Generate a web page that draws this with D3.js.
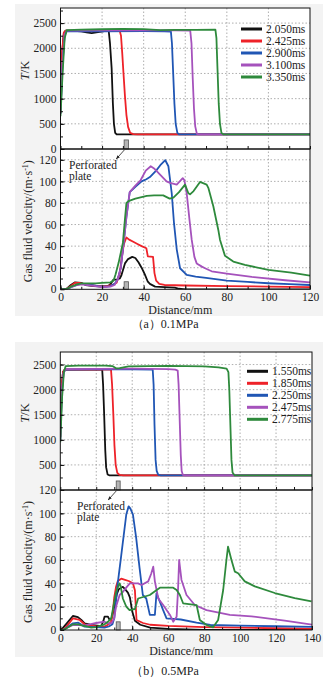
<!DOCTYPE html>
<html>
<head>
<meta charset="utf-8">
<script src="https://cdn.jsdelivr.net/npm/d3@7"></script>
<style>
  body { margin: 0; background: #fff; }
  svg text { font-family: "Liberation Serif", "Times New Roman", serif; fill: #222; }
</style>
</head>
<body>
<svg id="chart" width="327" height="677"></svg>
<script>
// ---------- data ----------
const seriesColors = ['#111111', '#ee2229', '#2056b4', '#a552bc', '#2e8a3c']

const timesA = ['2.050ms', '2.425ms', '2.900ms', '3.100ms', '3.350ms']
const timesB = ['1.550ms', '1.850ms', '2.250ms', '2.475ms', '2.775ms']

const distTicksA = [0, 20, 40, 60, 80, 100, 120]
const distTicksB = [0, 20, 40, 60, 80, 100, 120, 140]
const tTicksA = [0, 500, 1000, 1500, 2000, 2500]
const tTicksB = [500, 1000, 1500, 2000, 2500]
const vTicksA = [0, 20, 40, 60, 80, 100, 120]
const vTicksB = [0, 20, 40, 60, 80, 100, 120]

// perforated plate: [start mm, end mm], height in K and in m/s
const plateA = [30.6, 32.7]
const plateB = [31.1, 33.3]
const plateT = 180
const plateV = 7

// (a) 0.1MPa temperature, [distance mm, T K]
const tempA_2050 = [[0,720],[0.8,1900],[1.6,2300],[2.5,2350],[6,2345],[10,2335],[12.5,2315],[15,2300],[18,2320],[22,2345],[23.2,2340],[23.8,2100],[24.6,1600],[25.2,900],[25.7,500],[26.3,320],[27,290],[120,290]]
const tempA_2425 = [[0,720],[0.8,1950],[1.6,2310],[2.5,2350],[10,2345],[20,2345],[28.5,2345],[29.1,2250],[29.7,1900],[30.3,1500],[31,1050],[31.7,680],[32.5,440],[33.5,320],[35,295],[37,290],[120,290]]
const tempA_2900 = [[0,700],[1,1700],[2,2250],[3,2340],[20,2335],[40,2340],[50,2335],[53.1,2330],[53.6,2100],[54.2,1500],[54.8,900],[55.4,500],[56.2,320],[57,290],[120,290]]
const tempA_3100 = [[0,700],[1,1750],[2,2280],[3,2350],[20,2355],[40,2355],[55,2355],[62.4,2350],[63,2100],[63.6,1400],[64.2,800],[64.8,450],[65.6,300],[66.5,290],[120,290]]
const tempA_3350 = [[0,650],[1,1500],[2,2200],[3,2360],[10,2370],[20,2378],[30,2385],[40,2380],[48,2362],[55,2366],[65,2366],[74.5,2370],[75,2200],[75.5,1600],[76.1,900],[76.7,500],[77.4,320],[78.5,290],[120,290]]

// (a) 0.1MPa gas velocity, [distance mm, v m/s]
const velA_2050 = [[0,0],[3,0.5],[5,4],[7,6.5],[10,6],[12,4],[16,3],[20,2.5],[23,3],[24.5,6],[25.5,9],[27,9],[28.5,10],[29.3,13],[31,24],[32.5,28],[34.5,30],[36,29],[37.5,25],[39,20],[40.5,14],[42,7],[43,5],[45.5,2.5],[50,2],[55,1.5],[57,0.5],[60,0],[120,0]]
const velA_2425 = [[0,0],[3,0.5],[5,3],[7,6],[9,6],[11,5],[14,4],[18,3],[22,3],[25,4],[27,6],[28.5,15],[29.5,30],[30.5,42],[31.7,48],[33,46],[35,44],[37,42],[39,40],[41.3,38],[42,30.5],[44.5,30],[45.2,15],[46,8],[47.5,5],[50,4],[60,3.5],[80,3],[100,2.5],[120,2]]
const velA_2900 = [[0,0],[3,0.3],[5,2],[8,4],[10,5],[12,4.5],[15,4],[18,3],[22,2.5],[24,3],[26,5],[27.5,9],[29,20],[30.5,45],[31.7,67],[33.3,90],[36,95],[39,100],[41.3,102],[43,104],[46,110],[48,115],[50.4,119.6],[51.9,114],[53.5,89],[54.6,61],[55.9,37],[57.5,19.5],[60.7,13.3],[65,11.7],[70,10.5],[80,8],[90,6.8],[100,5.6],[110,4.8],[120,4]]
const velA_3100 = [[0,0],[3,0.3],[5,2],[8,4],[10,4.5],[13,4],[17,3],[20,2],[24,2.5],[26,4],[27.5,9],[29,20],[30.5,45],[31.7,67],[33.3,90],[36,96],[38.5,101],[41,110],[43.4,114],[45,112],[48,106],[51,100],[52.7,98.6],[55.9,97],[58.8,103],[59.6,101],[60.7,89],[62,65],[63.1,46],[64.4,30],[65.5,24],[68,21],[69.5,19.5],[72.7,16.7],[80,14.6],[92,11.5],[108,8.4],[120,6.5]]
const velA_3350 = [[0,0],[3,0.3],[5,2.5],[8,4.5],[10,5.5],[13,5.5],[17,5.5],[20,6],[24,6.5],[25.5,8],[26.5,14],[28,25],[30,43],[31,65],[31.7,80],[33,82],[36,84],[41.5,86.5],[45,87],[49.4,87],[52.5,84],[54.3,85],[57,90],[59.9,97],[61.5,89],[62.3,88],[64,91],[67.1,99.5],[70.3,97],[71.1,94],[73.5,77],[75.9,55],[76.7,46],[79.1,31],[83.1,25.7],[88.7,22.6],[100,18],[111,15.5],[120,12.7]]

// (b) 0.5MPa temperature
const tempB_1550 = [[0,1050],[0.6,2000],[1.5,2350],[2.5,2400],[23.3,2400],[23.8,2100],[24.4,1500],[25,800],[25.5,450],[26.3,310],[27.5,290],[140,290]]
const tempB_1850 = [[0,1050],[0.6,2000],[1.5,2350],[2.5,2400],[28.2,2400],[28.8,2100],[29.5,1500],[30.1,900],[30.8,500],[31.7,340],[33,300],[35,290],[140,290]]
const tempB_2250 = [[0,1000],[0.8,1900],[1.8,2330],[2.8,2400],[30,2410],[51.4,2400],[51.9,2100],[52.4,1300],[53,600],[53.6,380],[54.5,300],[56,290],[140,290]]
const tempB_2475 = [[0,1000],[0.8,1900],[1.8,2330],[2.8,2410],[40,2420],[60,2410],[64,2400],[65.3,2380],[65.8,2100],[66.4,1400],[67,700],[67.5,380],[68.2,300],[69.5,290],[140,290]]
const tempB_2775 = [[0,950],[1,1850],[2,2350],[3,2470],[10,2480],[25,2480],[29,2470],[31,2425],[33,2430],[38,2465],[60,2475],[80,2465],[88,2445],[92.5,2420],[93.5,2350],[94,2000],[94.6,1300],[95.2,600],[95.8,350],[97,290],[140,290]]

// (b) 0.5MPa gas velocity
const velB_1550 = [[0,0],[1,1],[4.3,7],[7,12],[9.8,11],[11.7,8.6],[13.5,5.7],[17.2,4.3],[22.8,3.4],[24,8],[24.6,11.4],[26.5,11.4],[27.4,8.6],[28.5,10],[29.5,16],[30.5,24],[31.5,31],[32.5,35],[34.8,37],[36,35],[37.6,32],[38.7,28],[40,16],[41.5,8],[44.5,4.5],[50,2],[60,1],[70,0.5],[80,0],[140,0]]
const velB_1850 = [[0,0],[2,0.5],[4.5,5],[7,10],[10.8,8.6],[13.5,4.9],[17,4],[20,3],[24.6,2.9],[27,5],[28.3,7.1],[29.2,15],[30,28],[31,37],[32,42],[33.9,44],[36,43],[38,42],[40.4,40],[41.5,34],[42.4,8.6],[46,6],[50,4.5],[60,3.5],[80,2.5],[100,2],[120,1.5],[140,1]]
const velB_2250 = [[0,0],[2,0.3],[4.5,3],[7,5.7],[10,6.3],[13.5,2.9],[20,2.5],[24.6,2],[27,3],[29,5],[30,10],[31,25],[31.7,37],[33.9,64],[36.7,99],[38,106],[39,104],[40.4,99],[42.2,79],[44.1,53],[45.9,30],[47.8,27],[49.8,13],[52.6,12.9],[53.5,31.4],[55.2,25],[57.2,17],[59.1,10],[67,9],[75.8,6.3],[83.5,4.3],[100,3.8],[120,3.2],[140,2.6]]
const velB_2475 = [[0,0],[2,0.3],[4.5,2.5],[7,4.3],[10,4.3],[13.5,4],[17,5],[20,6],[24.6,7.1],[27,5.5],[28.5,6],[30,10],[31,20],[33,30],[35,33],[37,37],[38.7,40],[43.2,40],[45.2,38.6],[48.9,41.7],[50.5,48],[51.7,54.3],[52.6,41.7],[54.5,27],[57.2,21.4],[61,12.9],[62.8,7.1],[64.7,11.4],[65.5,35],[66.1,60],[67.4,42.9],[70.2,30],[74.8,21.4],[81.3,17],[94.3,12.9],[106.3,11.7],[124.8,8],[140,4.6]]
const velB_2775 = [[0,0],[2,0.3],[4.5,2.5],[7,4.9],[10,4.9],[12,4],[15,3],[17.2,2],[20,2.5],[24.6,4.9],[26.5,7],[28.3,10],[29.5,20],[31.1,32.8],[32.9,40],[33.5,38],[34.8,27],[36.7,20],[38.5,17],[41.5,18],[43.3,27],[49.8,30],[53.6,34.3],[55.4,36.3],[62.8,36.3],[64.7,34.3],[66.5,30],[68.3,22.9],[75.8,21.4],[77.6,8.6],[81.3,4.3],[85,2.3],[87.8,8.6],[90.6,34.3],[92.4,60],[93.3,71.4],[95.2,60],[97.1,50],[98.9,48.6],[102.6,41.7],[108.2,37.4],[119.3,31.7],[130.4,27.4],[139.7,24.6]]

// ---------- drawing ----------
const svg = d3.select('#chart')
const serif = '"Liberation Serif", "Times New Roman", serif'
const fmt = d3.format('d')

// arrow marker for the plate label
svg.append('defs')
    .append('marker')
    .attr('id', 'arrow')
    .attr('viewBox', '0 0 10 10')
    .attr('refX', 9)
    .attr('refY', 5)
    .attr('markerWidth', 5)
    .attr('markerHeight', 5)
    .attr('orient', 'auto')
    .append('path')
    .attr('d', 'M0,1 L10,5 L0,9 z')
    .attr('fill', '#222')

function drawPanel(cfg) {
    const g = svg.append('g')

    // light grey backdrop of the sub figure
    g.append('rect')
        .attr('x', 15)
        .attr('y', cfg.bgTop)
        .attr('width', 308)
        .attr('height', cfg.bgBottom - cfg.bgTop)
        .attr('fill', '#f3f3f3')

    // scales
    const x = d3.scaleLinear().domain([0, cfg.xMax]).range([cfg.left, cfg.right])
    const yT = d3.scaleLinear().domain([0, cfg.tMax]).range([cfg.tBottom, cfg.top])
    const yV = d3.scaleLinear().domain([0, cfg.vMax]).range([cfg.vBottom, cfg.tBottom])

    // white plot areas
    g.append('rect')
        .attr('x', cfg.left).attr('y', cfg.top)
        .attr('width', cfg.right - cfg.left).attr('height', cfg.vBottom - cfg.top)
        .attr('fill', '#fff')

    // grid lines (dotted)
    const grid = g.append('g')
        .attr('stroke', '#9a9a9a')
        .attr('stroke-width', 0.8)
        .attr('stroke-dasharray', '1.5,2')
    const inner = cfg.distTicks.filter((d) => d > 0 && d < cfg.xMax)
    grid.selectAll('.gx')
        .data(inner)
        .enter()
        .append('line')
        .attr('x1', (d) => x(d)).attr('x2', (d) => x(d))
        .attr('y1', cfg.top).attr('y2', cfg.vBottom)
    grid.selectAll('.gt')
        .data(cfg.tTicks.filter((t) => t > 0))
        .enter()
        .append('line')
        .attr('x1', cfg.left).attr('x2', cfg.right)
        .attr('y1', (d) => yT(d)).attr('y2', (d) => yT(d))
    grid.selectAll('.gv')
        .data(cfg.vTicks.filter((v) => v > 0 && v < cfg.vMax))
        .enter()
        .append('line')
        .attr('x1', cfg.left).attr('x2', cfg.right)
        .attr('y1', (d) => yV(d)).attr('y2', (d) => yV(d))

    // clip paths so curves stay inside the frames
    const defs = svg.select('defs')
    defs.append('clipPath').attr('id', cfg.id + '-clipT')
        .append('rect')
        .attr('x', cfg.left).attr('y', cfg.top)
        .attr('width', cfg.right - cfg.left).attr('height', cfg.tBottom - cfg.top)
    defs.append('clipPath').attr('id', cfg.id + '-clipV')
        .append('rect')
        .attr('x', cfg.left).attr('y', cfg.tBottom)
        .attr('width', cfg.right - cfg.left).attr('height', cfg.vBottom - cfg.tBottom)

    // perforated plate in both panels
    g.append('rect')
        .attr('x', x(cfg.plate[0]))
        .attr('width', x(cfg.plate[1]) - x(cfg.plate[0]))
        .attr('y', yT(plateT))
        .attr('height', yT(0) - yT(plateT))
        .attr('fill', '#b5b5b5')
        .attr('stroke', '#555')
        .attr('stroke-width', 0.8)
    g.append('rect')
        .attr('x', x(cfg.plate[0]))
        .attr('width', x(cfg.plate[1]) - x(cfg.plate[0]))
        .attr('y', yV(plateV))
        .attr('height', yV(0) - yV(plateV))
        .attr('fill', '#b5b5b5')
        .attr('stroke', '#555')
        .attr('stroke-width', 0.8)

    // curves
    const lineT = d3.line().x((d) => x(d[0])).y((d) => yT(d[1]))
    const lineV = d3.line().x((d) => x(d[0])).y((d) => yV(d[1]))

    g.append('g')
        .attr('clip-path', `url(#${cfg.id}-clipT)`)
        .selectAll('path')
        .data(cfg.temps)
        .enter()
        .append('path')
        .attr('fill', 'none')
        .attr('stroke', (d, i) => seriesColors[i])
        .attr('stroke-width', 1.8)
        .attr('stroke-linejoin', 'round')
        .attr('d', lineT)

    g.append('g')
        .attr('clip-path', `url(#${cfg.id}-clipV)`)
        .selectAll('path')
        .data(cfg.vels)
        .enter()
        .append('path')
        .attr('fill', 'none')
        .attr('stroke', (d, i) => seriesColors[i])
        .attr('stroke-width', 1.8)
        .attr('stroke-linejoin', 'round')
        .attr('d', lineV)

    // frames
    g.append('rect')
        .attr('x', cfg.left).attr('y', cfg.top)
        .attr('width', cfg.right - cfg.left).attr('height', cfg.tBottom - cfg.top)
        .attr('fill', 'none').attr('stroke', '#111').attr('stroke-width', 1)
    g.append('rect')
        .attr('x', cfg.left).attr('y', cfg.tBottom)
        .attr('width', cfg.right - cfg.left).attr('height', cfg.vBottom - cfg.tBottom)
        .attr('fill', 'none').attr('stroke', '#111').attr('stroke-width', 1)

    // axes: inward ticks, labels outside
    function style(sel) {
        sel.call((s) => s.select('.domain').remove())
            .attr('font-size', 11.5)
            .attr('font-family', serif)
        sel.selectAll('line').attr('stroke', '#111')
        sel.selectAll('text').attr('fill', '#222')
    }

    const minorX = d3.range(0, cfg.xMax + 1, 10)
    // bottom of the temperature panel: ticks only
    g.append('g')
        .attr('transform', `translate(0,${cfg.tBottom})`)
        .call(d3.axisBottom(x).tickValues(minorX).tickSizeInner(-3).tickSizeOuter(0).tickFormat(''))
        .call(style)

    // bottom of the velocity panel
    g.append('g')
        .attr('transform', `translate(0,${cfg.vBottom})`)
        .call(d3.axisBottom(x).tickValues(minorX).tickSizeInner(-2.5).tickSizeOuter(0).tickFormat(''))
        .call(style)
    g.append('g')
        .attr('transform', `translate(0,${cfg.vBottom})`)
        .call(d3.axisBottom(x).tickValues(cfg.distTicks).tickSizeInner(-4).tickSizeOuter(0).tickPadding(4).tickFormat(fmt))
        .call(style)

    // left axes
    g.append('g')
        .attr('transform', `translate(${cfg.left},0)`)
        .call(d3.axisLeft(yT).tickValues(d3.range(250, cfg.tMax, 250)).tickSizeInner(-2.5).tickSizeOuter(0).tickFormat(''))
        .call(style)
    g.append('g')
        .attr('transform', `translate(${cfg.left},0)`)
        .call(d3.axisLeft(yT).tickValues(cfg.tTicks).tickSizeInner(-4).tickSizeOuter(0).tickPadding(4).tickFormat(fmt))
        .call(style)
    g.append('g')
        .attr('transform', `translate(${cfg.left},0)`)
        .call(d3.axisLeft(yV).tickValues(d3.range(10, cfg.vMax, 10)).tickSizeInner(-2.5).tickSizeOuter(0).tickFormat(''))
        .call(style)
    g.append('g')
        .attr('transform', `translate(${cfg.left},0)`)
        .call(d3.axisLeft(yV).tickValues(cfg.vTicks).tickSizeInner(-4).tickSizeOuter(0).tickPadding(4).tickFormat(fmt))
        .call(style)

    // axis titles
    const tLabel = g.append('text')
        .attr('transform', `translate(${cfg.left - 36},${(cfg.top + cfg.tBottom) / 2 - 8}) rotate(-90)`)
        .attr('text-anchor', 'middle')
        .attr('dy', '0.35em')
        .attr('font-size', 12.5)
    tLabel.append('tspan').attr('font-style', 'italic').text('T')
    tLabel.append('tspan').text('/K')

    const vLabel = g.append('text')
        .attr('transform', `translate(${cfg.left - 33},${(cfg.tBottom + cfg.vBottom) / 2 + 2}) rotate(-90)`)
        .attr('text-anchor', 'middle')
        .attr('dy', '0.35em')
        .attr('font-size', 12)
    vLabel.append('tspan').text('Gas fluid velocity/(m·s')
    vLabel.append('tspan').attr('font-size', 8).attr('dy', -4).text('-1')
    vLabel.append('tspan').attr('dy', 4).text(')')

    g.append('text')
        .attr('x', (cfg.left + cfg.right) / 2 - 5)
        .attr('y', cfg.vBottom + 25)
        .attr('text-anchor', 'middle')
        .attr('font-size', 12)
        .text('Distance/mm')

    // plate annotation
    const px = x((cfg.plate[0] + cfg.plate[1]) / 2)
    g.append('line')
        .attr('x1', px - 2).attr('y1', cfg.tBottom + 1)
        .attr('x2', px - 10).attr('y2', cfg.tBottom + 10)
        .attr('stroke', '#222')
        .attr('stroke-width', 0.8)
        .attr('marker-end', 'url(#arrow)')
    g.append('text')
        .attr('x', cfg.noteX).attr('y', cfg.tBottom + 20)
        .attr('font-size', 11.5)
        .text('Perforated')
    g.append('text')
        .attr('x', cfg.noteX).attr('y', cfg.tBottom + 31)
        .attr('font-size', 11.5)
        .text('plate')

    // legend
    const legend = g.append('g')
        .selectAll('g')
        .data(cfg.times)
        .enter()
        .append('g')
        .attr('transform', (d, i) => `translate(${cfg.legendX},${cfg.legendY + i * 12})`)
    legend.append('line')
        .attr('x1', 0).attr('x2', 21)
        .attr('stroke', (d, i) => seriesColors[i])
        .attr('stroke-width', 3)
    legend.append('text')
        .attr('x', 25)
        .attr('dy', '0.35em')
        .attr('font-size', 11.5)
        .text((d) => d)

    // caption
    g.append('text')
        .attr('x', 165)
        .attr('y', cfg.captionY)
        .attr('text-anchor', 'middle')
        .attr('font-size', 12)
        .text(cfg.caption)
}

drawPanel({
    id: 'a',
    bgTop: 4, bgBottom: 316,
    left: 60.5, right: 310, top: 8, tBottom: 149, vBottom: 289.3,
    xMax: 120, tMax: 2800, vMax: 130,
    distTicks: distTicksA, tTicks: tTicksA, vTicks: vTicksA,
    plate: plateA,
    temps: [tempA_2050, tempA_2425, tempA_2900, tempA_3100, tempA_3350],
    vels: [velA_2050, velA_2425, velA_2900, velA_3100, velA_3350],
    times: timesA,
    legendX: 241, legendY: 29,
    noteX: 69,
    caption: '（a）0.1MPa', captionY: 328,
})

drawPanel({
    id: 'b',
    bgTop: 342, bgBottom: 657,
    left: 60.3, right: 312, top: 352, tBottom: 490, vBottom: 630,
    xMax: 140, tMax: 2750, vMax: 120,
    distTicks: distTicksB, tTicks: tTicksB, vTicks: vTicksB,
    plate: plateB,
    temps: [tempB_1550, tempB_1850, tempB_2250, tempB_2475, tempB_2775],
    vels: [velB_1550, velB_1850, velB_2250, velB_2475, velB_2775],
    times: timesB,
    legendX: 247, legendY: 371.3,
    noteX: 77,
    caption: '（b）0.5MPa', captionY: 675,
})
</script>
</body>
</html>
